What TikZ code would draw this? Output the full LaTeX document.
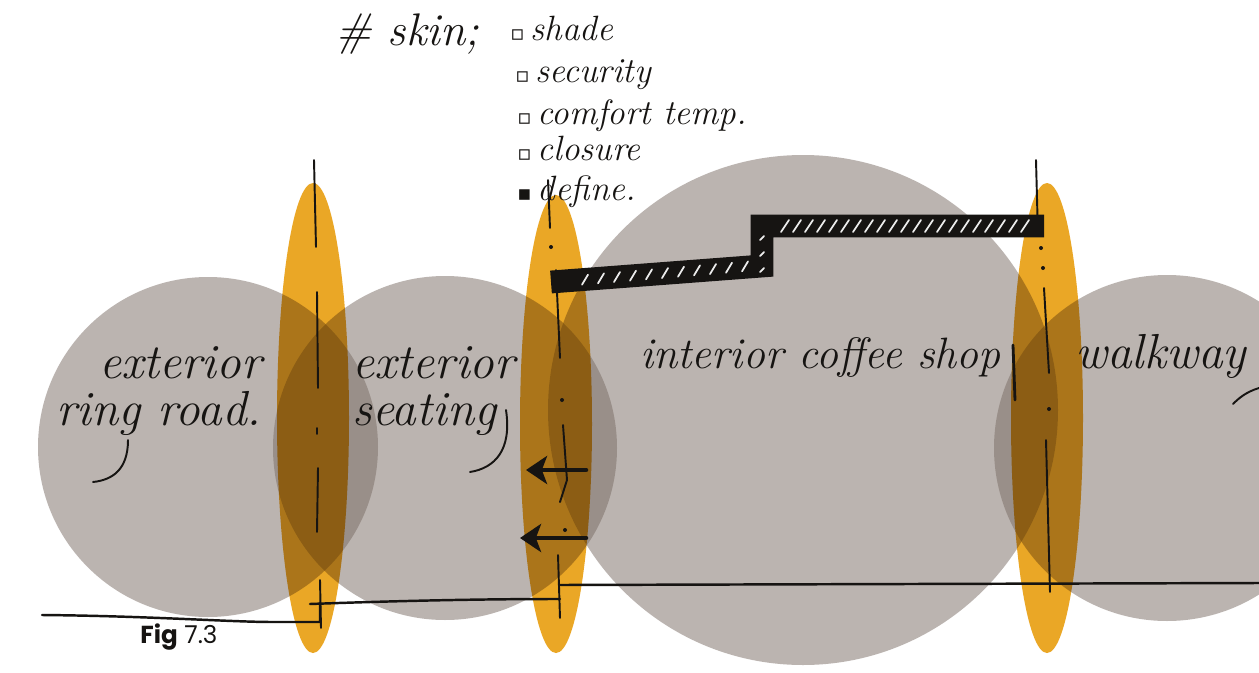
\documentclass[tikz,border=0pt]{standalone}
\usepackage{fontspec}
\usepackage{tikz}
\usetikzlibrary{arrows.meta}
\newfontfamily\figfont{Poppins}
\newfontfamily\symfont{DejaVu Sans}
\definecolor{zonegray}{HTML}{796B63}
\definecolor{skinorange}{HTML}{EAA726}
\definecolor{ink}{HTML}{161412}
\newcommand\openbul{{\symfont\fontsize{12}{12}\selectfont ▫}\,}
\newcommand\fullbul{{\symfont\fontsize{12}{12}\selectfont ▪}\,}

\begin{document}
\begin{tikzpicture}[x=0.02cm,y=-0.02cm,>={Stealth[length=12pt,width=16pt,inset=3pt]},
  zone/.style={fill=zonegray,fill opacity=0.5},
  skin/.style={fill=skinorange},
  pen/.style={draw=ink,line width=1.1pt,line cap=round,line join=round},
  wall/.style={draw=ink,line width=13pt,line join=miter},
  hatch/.style={draw=white!85!gray,line width=1pt,line cap=round},
  hand/.style={text=ink,inner sep=0pt,anchor=base west,font=\fontsize{#1}{#1}\selectfont\itshape},
  hand/.default=28]
\clip (0,0) rectangle (1259,673);
\fill[white] (0,0) rectangle (1259,673);

\fill[zone] (208,447) circle[radius=170];
\fill[zone] (445,448) circle[radius=172];
\fill[zone] (803,410) circle[radius=255];
\fill[zone] (1167,448) circle[radius=173];

\begin{scope}[blend mode=multiply]
\fill[skin] (313,418) ellipse[x radius=36,y radius=235];
\fill[skin] (556,424) ellipse[x radius=36,y radius=229];
\fill[skin] (1047,418) ellipse[x radius=36,y radius=235];
\end{scope}

\draw[wall] (551,282) -- (762,266) -- (762,226) -- (1044,226);
\foreach \x in {785,797,...,1025}
  \draw[hatch] (\x-4,232) -- (\x+4,220);
\foreach \x in {585,601,...,745}
  \draw[hatch] ({\x-3},{287-17*(\x-557)/205}) -- ({\x+3},{277-17*(\x-557)/205});
\foreach \y in {240,256,272}
  \draw[hatch] (760,\y) -- (764,\y-4);

\draw[pen,line width=1.4pt] (42,615) .. controls (150,616) and (230,622) .. (273,622) -- (320,622) -- (320,603);
\draw[pen,line width=1.4pt] (310,604) .. controls (420,600) and (500,599) .. (560,599);
\draw[pen,line width=1.4pt] (560,585) -- (1259,583);

\draw[pen] (314,160) -- (316,247);
\draw[pen] (317,292) -- (318,388);
\draw[pen] (317,428) -- (317,434);
\draw[pen] (318,468) -- (317,532);
\draw[pen] (320,580) -- (321,628);

\draw[pen] (548,180) -- (550,228);
\fill[ink] (551,247) circle[radius=2];
\draw[pen] (556,270) -- (560,358);
\fill[ink] (562,400) circle[radius=2];
\draw[pen] (563,425) -- (567,480) -- (560,502);
\fill[ink] (565,530) circle[radius=2];
\draw[pen] (558,555) -- (560,618);

\draw[pen] (1036,160) -- (1038,236);
\fill[ink] (1041,248) circle[radius=2];
\fill[ink] (1043,268) circle[radius=2];
\draw[pen] (1044,288) -- (1049,373);
\fill[ink] (1049,409) circle[radius=2];
\draw[pen] (1046,440) -- (1050,592);
\draw[pen,line width=1.6pt] (1013,345) -- (1015,400);

\coordinate (a1s) at (586,470);
\coordinate (a1e) at (526,470);
\coordinate (a2s) at (586,538);
\coordinate (a2e) at (520,538);
\draw[pen,line width=2.6pt,->] (a1s) -- (a1e);
\draw[pen,line width=2.6pt,->] (a2s) -- (a2e);

\node[hand=26] (skin) at (335,45) {\#\ skin;};
\node[hand=20] (shade) at (510,40) {\openbul shade};
\node[hand=20] (security) at (515,82) {\openbul security};
\node[hand=20] (comfort) at (517,124) {\openbul comfort temp.};
\node[hand=20] (closure) at (517,160) {\openbul closure};
\node[hand=20] (define) at (517,200) {\fullbul define.};

\node[hand,anchor=base east] (ringa) at (262,378) {exterior};
\node[hand,anchor=base east] (ringb) at (262,425) {ring road.};
\node[hand] (seata) at (352,378) {exterior};
\node[hand] (seatb) at (352,425) {seating};
\node[hand=25] (shop) at (640,368) {interior coffee shop};
\node[hand] (walk) at (1075,368) {walkway};

\draw[pen] (128,440) .. controls (128,470) and (112,480) .. (93,482);
\draw[pen] (506,410) .. controls (512,450) and (495,468) .. (470,472);
\draw[pen] (1259,388) .. controls (1246,392) and (1239,398) .. (1233,404);

\node[anchor=base west,inner sep=0pt,text=ink,font=\figfont\fontsize{14}{16}\selectfont] (fig) at (140,643) {\textbf{Fig} 7.3};
\end{tikzpicture}
\end{document}
